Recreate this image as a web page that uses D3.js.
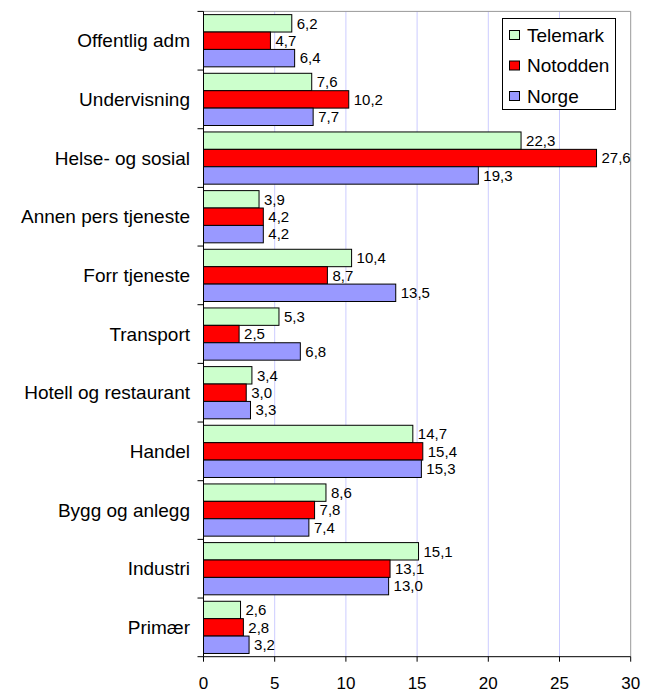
<!DOCTYPE html>
<html><head><meta charset="utf-8">
<script src="https://cdn.jsdelivr.net/npm/d3@7"></script>
<style>body{margin:0;background:#fff;}text{font-family:"Liberation Sans",Arial,sans-serif;}</style>
</head><body>
<svg id="c" width="655" height="692"></svg>
<script>
const categories = ["Offentlig adm","Undervisning","Helse- og sosial","Annen pers tjeneste","Forr tjeneste","Transport","Hotell og restaurant","Handel","Bygg og anlegg","Industri","Primær"];
const seriesNames = ["Telemark","Notodden","Norge"];
const telemark = [6.2,7.6,22.3,3.9,10.4,5.3,3.4,14.7,8.6,15.1,2.6];
const notodden = [4.7,10.2,27.6,4.2,8.7,2.5,3.0,15.4,7.8,13.1,2.8];
const norge = [6.4,7.7,19.3,4.2,13.5,6.8,3.3,15.3,7.4,13.0,3.2];
const xTicks = [0,5,10,15,20,25,30];
const colors = ["#ccffcc","#ff0000","#9999ff"];
const seriesVals = [telemark, notodden, norge];

const svg = d3.select("#c");
const L=203.5, R=630.7, T=11.4, B=656.7;
const x = d3.scaleLinear().domain([0,30]).range([L,R]);
const y = d3.scaleBand().domain(categories).range([T,B]).paddingInner(0.11).paddingOuter(0.055);
const ys = d3.scaleBand().domain(seriesNames).range([0,y.bandwidth()]);

// gridlines
svg.append("g").selectAll("line").data(xTicks.slice(1,-1)).join("line")
  .attr("x1",d=>x(d)).attr("x2",d=>x(d)).attr("y1",T).attr("y2",B)
  .attr("stroke","#ccccff").attr("stroke-width",1);
// plot border top/right
svg.append("line").attr("x1",L).attr("x2",R).attr("y1",T).attr("y2",T).attr("stroke","#999").attr("stroke-width",1);
svg.append("line").attr("x1",R).attr("x2",R).attr("y1",T).attr("y2",B).attr("stroke","#999").attr("stroke-width",1);

// bars
const g = svg.append("g");
categories.forEach((c,i)=>{
  seriesNames.forEach((s,j)=>{
    const v = seriesVals[j][i];
    const yy = y(c)+ys(s);
    g.append("rect").attr("x",x(0)).attr("y",yy).attr("width",x(v)-x(0)).attr("height",ys.bandwidth())
      .attr("fill",colors[j]).attr("stroke","#000").attr("stroke-width",1);
    g.append("text").attr("x",x(v)+5).attr("y",yy+ys.bandwidth()/2).attr("dy","0.35em")
      .attr("font-size",15).attr("fill","#000").text(v.toFixed(1).replace(".",","));
  });
});

// left axis
svg.append("line").attr("x1",L).attr("x2",L).attr("y1",T).attr("y2",B).attr("stroke","#000");
const bounds = d3.range(categories.length+1).map(k=>T+k*(B-T)/categories.length);
svg.append("g").selectAll("line").data(bounds).join("line")
  .attr("x1",L-6).attr("x2",L).attr("y1",d=>d).attr("y2",d=>d).attr("stroke","#000");
svg.append("g").selectAll("text").data(categories).join("text")
  .attr("x",190).attr("y",d=>y(d)+y.bandwidth()/2).attr("dy","0.35em").attr("text-anchor","end")
  .attr("font-size",19).attr("fill","#000").text(d=>d);

// bottom axis
svg.append("line").attr("x1",L).attr("x2",R).attr("y1",B).attr("y2",B).attr("stroke","#000");
svg.append("g").selectAll("line").data(xTicks).join("line")
  .attr("x1",d=>x(d)).attr("x2",d=>x(d)).attr("y1",B).attr("y2",B+5).attr("stroke","#000");
svg.append("g").selectAll("text").data(xTicks).join("text")
  .attr("x",d=>x(d)).attr("y",689).attr("text-anchor","middle")
  .attr("font-size",17).attr("fill","#000").text(d=>d);

// legend
const lg = svg.append("g");
lg.append("rect").attr("x",502.5).attr("y",18.5).attr("width",113).attr("height",91).attr("fill","#fff").attr("stroke","#000");
seriesNames.forEach((s,j)=>{
  const cy = 35+j*30.5;
  lg.append("rect").attr("x",509.5).attr("y",cy-4.5).attr("width",10).attr("height",9).attr("fill",colors[j]).attr("stroke","#000");
  lg.append("text").attr("x",527).attr("y",cy).attr("dy","0.35em").attr("font-size",19).attr("fill","#000").text(s);
});
</script>
</body></html>
